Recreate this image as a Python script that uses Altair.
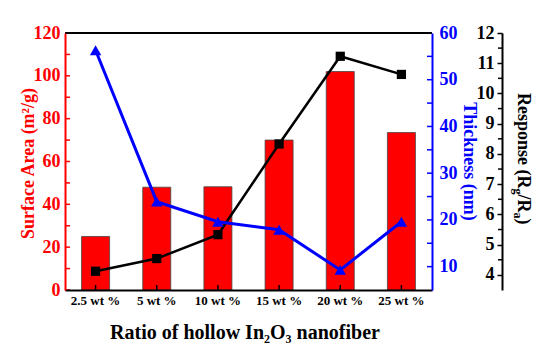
import altair as alt
import pandas as pd

# ---- data ----
categories = ["2.5 wt %", "5 wt %", "10 wt %", "15 wt %", "20 wt %", "25 wt %"]
surface_area = [25, 48, 48.2, 70, 102, 73.5]
thickness = [56.3, 23.9, 19.6, 17.9, 9.3, 19.6]
response = [4.12, 4.54, 5.33, 8.33, 11.23, 10.63]

area_ticks = [0, 10, 20, 30, 40, 50, 60, 70, 80, 90, 100, 110, 120]
area_labels = [0, 20, 40, 60, 80, 100, 120]
thick_ticks = [10, 15, 20, 25, 30, 35, 40, 45, 50, 55, 60]
thick_labels = [10, 20, 30, 40, 50, 60]
resp_labels = [4, 5, 6, 7, 8, 9, 10, 11, 12]
resp_minor = [4.5, 5.5, 6.5, 7.5, 8.5, 9.5, 10.5, 11.5]

W, H = 367, 257
FONT = "Liberation Serif"

df = pd.DataFrame({"ratio": categories, "area": surface_area,
                   "thickness": thickness, "response": response})
df_area_ticks = pd.DataFrame({"area": area_ticks})
df_thick_ticks = pd.DataFrame({"thickness": thick_ticks})
df_resp_minor = pd.DataFrame({"response": resp_minor})

x_axis = alt.Axis(title="Ratio of hollow In₂O₃ nanofiber", labelAngle=0,
                  labelFont=FONT, labelFontSize=13, labelFontWeight="bold",
                  labelColor="black", labelPadding=4,
                  ticks=False, tickSize=0, labelOverlap=False,
                  domainColor="black", domainWidth=2,
                  titleFont=FONT, titleFontSize=20, titleFontWeight="bold",
                  titleColor="black", titleY=48, titleBaseline="alphabetic",
                  titleX=W / 2 - 4, grid=False, zindex=1)
x_scale = alt.Scale(paddingInner=0, paddingOuter=0)


def xenc():
    return alt.X("ratio:N", sort=categories, scale=x_scale, axis=x_axis)


area_scale = alt.Scale(domain=[0, 120], nice=False, zero=False)
thick_scale = alt.Scale(domain=[5, 60], nice=False, zero=False)
resp_scale = alt.Scale(domain=[3.5, 12], nice=False, zero=False)

red_axis = alt.Axis(orient="left", title="Surface Area (m²/g)", values=area_labels,
                    ticks=False, tickSize=0, labelPadding=5, labelOverlap=False,
                    labelFont=FONT, labelFontSize=18, labelFontWeight="bold",
                    labelColor="red", domainColor="red", domainWidth=2, grid=False,
                    titleFont=FONT, titleFontSize=18, titleFontWeight="bold",
                    titleColor="red", titleAngle=270, titleX=-37, titleY=130,
                    titleAlign="center", titleBaseline="middle", zindex=1)

blue_axis = alt.Axis(orient="right", title="Thickness (nm)", values=thick_labels,
                     ticks=False, tickSize=0, labelPadding=7, labelOverlap=False,
                     labelFont=FONT, labelFontSize=18, labelFontWeight="bold",
                     labelColor="blue", domainColor="blue", domainWidth=2, grid=False,
                     titleFont=FONT, titleFontSize=18, titleFontWeight="bold",
                     titleColor="blue", titleAngle=90, titleX=36, titleY=128,
                     titleAlign="center", titleBaseline="middle", zindex=1)

black_axis = alt.Axis(orient="left", offset=-437, title="", values=resp_labels,
                      labelOverlap=False,
                      tickSize=5, tickWidth=1.5, tickColor="black", labelPadding=3,
                      labelFont=FONT, labelFontSize=18, labelFontWeight="bold",
                      labelColor="black", domainColor="black", domainWidth=2,
                      grid=False, zindex=1)

bars = alt.Chart(df).mark_bar(color="#ff0000", stroke="#444444", strokeWidth=0.8,
                              size=28).encode(
    x=xenc(), y=alt.Y("area:Q", scale=area_scale, axis=red_axis))
red_ticks = alt.Chart(df_area_ticks).mark_rule(color="red", strokeWidth=1.5).encode(
    y=alt.Y("area:Q", scale=area_scale, axis=red_axis), x=alt.value(0), x2=alt.value(5))
red_layer = alt.layer(bars, red_ticks)

black_line = alt.Chart(df).mark_line(color="black", strokeWidth=2.5).encode(
    x=xenc(), y=alt.Y("response:Q", scale=resp_scale, axis=black_axis))
black_pts = alt.Chart(df).mark_point(shape="square", filled=True, size=85,
                                     color="black", opacity=1).encode(
    x=xenc(), y=alt.Y("response:Q", scale=resp_scale, axis=black_axis))
black_minor = alt.Chart(df_resp_minor).mark_rule(color="black", strokeWidth=1.5).encode(
    y=alt.Y("response:Q", scale=resp_scale, axis=black_axis),
    x=alt.value(437 - 4), x2=alt.value(437))
black_layer = alt.layer(black_line, black_pts, black_minor)

blue_line = alt.Chart(df).mark_line(color="#0000ff", strokeWidth=3).encode(
    x=xenc(), y=alt.Y("thickness:Q", scale=thick_scale, axis=blue_axis))
blue_pts = alt.Chart(df).mark_point(shape="triangle-up", filled=True, size=130,
                                    color="#0000ff", opacity=1).encode(
    x=xenc(), y=alt.Y("thickness:Q", scale=thick_scale, axis=blue_axis))
blue_ticks = alt.Chart(df_thick_ticks).mark_rule(color="blue", strokeWidth=1.5).encode(
    y=alt.Y("thickness:Q", scale=thick_scale, axis=blue_axis),
    x=alt.value(W - 5), x2=alt.value(W))
blue_layer = alt.layer(blue_line, blue_pts, blue_ticks)

x_ticks = alt.Chart(df).mark_rule(color="black", strokeWidth=1.5).encode(
    x=xenc(), y=alt.value(H), y2=alt.value(H - 5))

one = pd.DataFrame({"d": [0]})
top_border = alt.Chart(one).mark_rule(color="black", strokeWidth=2).encode(
    x=alt.value(0), x2=alt.value(W), y=alt.value(0))

# Response (R_g/R_a) title, rotated, built from pieces
segments = [("Response (R", 18, 0), ("g", 12, -4), ("/R", 18, 0), ("a", 12, -4), (")", 18, 0)]
seg_widths = [95.5, 6.0, 18.0, 6.0, 6.0]
title_layers = []
ypos = 60.0
for (txt, fs, shift), wdt in zip(segments, seg_widths):
    title_layers.append(
        alt.Chart(pd.DataFrame({"t": [txt]})).mark_text(
            angle=90, align="left", baseline="alphabetic", font=FONT,
            fontWeight="bold", fontSize=fs, color="black").encode(
            text="t:N", x=alt.value(453 + shift), y=alt.value(ypos)))
    ypos += wdt

chart = alt.layer(red_layer, black_layer, blue_layer, x_ticks, top_border,
                  *title_layers).resolve_scale(y="independent").properties(
    width=W, height=H,
    autosize=alt.AutoSizeParams(type="none"),
    padding={"left": 65, "top": 33, "right": 121, "bottom": 63},
).configure_view(stroke=None).configure(background="white", font=FONT)

chart.save("out.html", embed_options={"renderer": "svg", "actions": False})
